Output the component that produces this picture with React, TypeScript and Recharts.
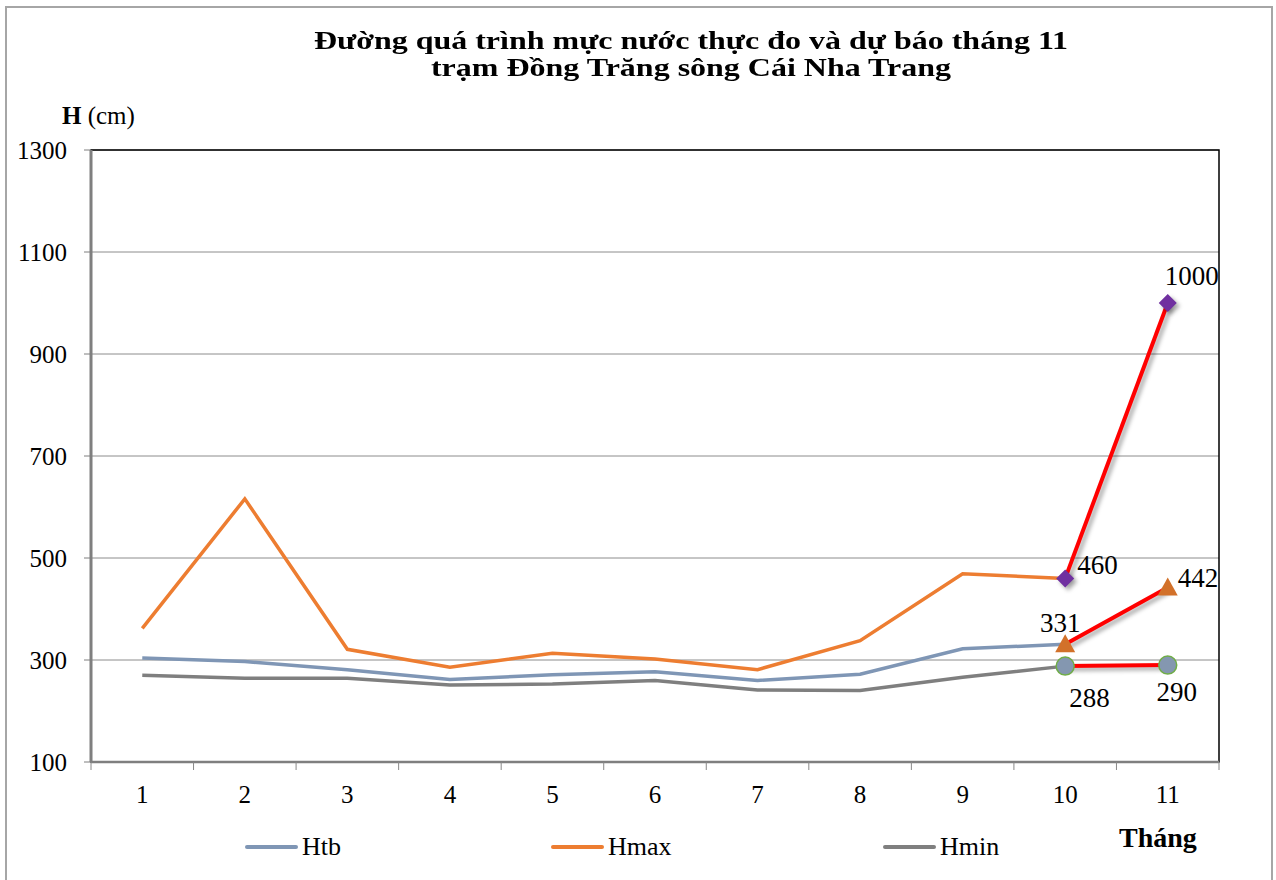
import React from 'react';
import { ComposedChart, Line, XAxis, YAxis, CartesianGrid, ReferenceArea, LabelList } from 'recharts';

const months = [1, 2, 3, 4, 5, 6, 7, 8, 9, 10, 11];
const htb: (number | null)[] = [304, 297, 281, 262, 271, 277, 260, 272, 322, 331, null];
const hmax: (number | null)[] = [362, 616, 321, 286, 313, 302, 281, 338, 469, 460, null];
const hmin: (number | null)[] = [270, 264, 264, 251, 253, 260, 241, 240, 266, 288, null];
const fcMax: (number | null)[] = [null, null, null, null, null, null, null, null, null, 460, 1000];
const fcTb: (number | null)[] = [null, null, null, null, null, null, null, null, null, 331, 442];
const fcMin: (number | null)[] = [null, null, null, null, null, null, null, null, null, 288, 290];
const yTicks = [100, 300, 500, 700, 900, 1100, 1300];
const xLabelTicks = months;
const xBoundaryTicks = [0.5, 1.5, 2.5, 3.5, 4.5, 5.5, 6.5, 7.5, 8.5, 9.5, 10.5, 11.5];

const data = months.map((m, i) => ({
  m,
  htb: htb[i],
  hmax: hmax[i],
  hmin: hmin[i],
  fcMax: fcMax[i],
  fcTb: fcTb[i],
  fcMin: fcMin[i],
}));

const FONT = '"Liberation Serif", "Times New Roman", serif';
const shadow = { filter: 'drop-shadow(3px 3px 2px rgba(0,0,0,0.35))' };

const XTick = (props: any) => {
  const { x, y, payload } = props;
  const v = payload.value;
  if (Number.isInteger(v)) {
    return (
      <text x={x} y={y + 41} textAnchor="middle" fontFamily={FONT} fontSize={25} fill="#000">
        {v}
      </text>
    );
  }
  return <line x1={x} x2={x} y1={y} y2={y + 8} stroke="#888" strokeWidth={1} />;
};

const Diamond = (props: any) => {
  const { cx, cy, value } = props;
  if (value == null || cx == null) return null;
  const s = 9;
  return (
    <path
      d={`M${cx},${cy - s} L${cx + s},${cy} L${cx},${cy + s} L${cx - s},${cy} Z`}
      fill="#7030A0"
      style={shadow}
    />
  );
};
const Triangle = (props: any) => {
  const { cx, cy, value } = props;
  if (value == null || cx == null) return null;
  const s = 10;
  return <path d={`M${cx},${cy - s} L${cx + s},${cy + s * 0.8} L${cx - s},${cy + s * 0.8} Z`} fill="#D2712A" />;
};
const Circle = (props: any) => {
  const { cx, cy, value } = props;
  if (value == null || cx == null) return null;
  return <circle cx={cx} cy={cy} r={9} fill="#8497B0" stroke="#70AD47" strokeWidth={1.5} />;
};

const makeLabel = (offsets: { [k: number]: [number, number, string] }) => (props: any) => {
  const { x, y, value, index } = props;
  if (value == null) return null;
  const o = offsets[index];
  if (!o) return null;
  return (
    <text x={x + o[0]} y={y + o[1]} textAnchor={o[2] as any} dominantBaseline="central" fontFamily={FONT} fontSize={27} fill="#000">
      {value}
    </text>
  );
};

const maxLabels = makeLabel({ 9: [12, -13, 'start'], 10: [-3, -27, 'start'] });
const tbLabels = makeLabel({ 9: [-5, -21, 'middle'], 10: [10, -10, 'start'] });
const minLabels = makeLabel({ 9: [4, 32, 'start'], 10: [9, 27, 'middle'] });

const legendItems = [
  { name: 'Htb', color: '#7F96B5', left: 245 },
  { name: 'Hmax', color: '#ED7D31', left: 551 },
  { name: 'Hmin', color: '#7F7F7F', left: 883 },
];

export default function App() {
  return (
    <div style={{ position: 'absolute', left: 0, top: 0, width: 1276, height: 880, background: '#fff', fontFamily: FONT }}>
      <div style={{ position: 'absolute', left: 5, top: 6, width: 1268, height: 880, border: '2px solid #A6A6A6', borderBottom: 'none', boxSizing: 'border-box' }} />
      <div
        style={{
          position: 'absolute',
          left: 0,
          top: 27,
          width: 1382,
          textAlign: 'center',
          fontWeight: 'bold',
          fontSize: 26,
          lineHeight: '27px',
          color: '#000',
          transform: 'scaleX(1.23)',
          transformOrigin: '691px 0',
        }}
      >
        Đường quá trình mực nước thực đo và dự báo tháng 11
        <br />
        trạm Đồng Trăng sông Cái Nha Trang
      </div>
      <div style={{ position: 'absolute', left: 62, top: 102, fontSize: 25, color: '#000' }}>
        <b>H</b> (cm)
      </div>
      <div style={{ position: 'absolute', left: 1119, top: 822, fontSize: 28, fontWeight: 'bold', color: '#000' }}>Tháng</div>
      {legendItems.map((it) => (
        <div key={it.name} style={{ position: 'absolute', left: it.left, top: 832, display: 'flex', alignItems: 'center', fontSize: 26, color: '#000' }}>
          <span style={{ display: 'inline-block', width: 53, height: 4, borderRadius: 2, background: it.color, marginRight: 4 }} />
          <span>{it.name}</span>
        </div>
      ))}
      <div style={{ position: 'absolute', left: 0, top: 0 }}>
        <ComposedChart width={1276} height={880} data={data} margin={{ top: 150, right: 57, bottom: 0, left: 0 }}>
          <CartesianGrid vertical={false} stroke="#8C8C8C" strokeWidth={1} />
          <ReferenceArea x1={0.5} x2={11.5} y1={100} y2={1300} fill="none" stroke="#000" strokeWidth={1.5} ifOverflow="visible" />
          <XAxis
            dataKey="m"
            type="number"
            domain={[0.5, 11.5]}
            ticks={[...xBoundaryTicks, ...xLabelTicks]}
            interval={0}
            height={118}
            tickSize={0}
            tickMargin={0}
            tick={<XTick />}
            axisLine={{ stroke: '#7F7F7F', strokeWidth: 2.5 }}
            allowDecimals
          />
          <YAxis
            type="number"
            domain={[100, 1300]}
            ticks={yTicks}
            interval={0}
            width={91}
            tickSize={7}
            tickMargin={17}
            tickLine={{ stroke: '#7F7F7F' }}
            axisLine={{ stroke: '#7F7F7F', strokeWidth: 3 }}
            tick={{ fontFamily: FONT, fontSize: 25, fill: '#000' }}
          />
          <Line dataKey="hmin" stroke="#7F7F7F" strokeWidth={3.5} dot={false} isAnimationActive={false} />
          <Line dataKey="htb" stroke="#7F96B5" strokeWidth={3.5} dot={false} isAnimationActive={false} />
          <Line dataKey="hmax" stroke="#ED7D31" strokeWidth={3.5} dot={false} isAnimationActive={false} />
          <Line dataKey="fcMin" stroke="#FF0000" strokeWidth={4} dot={<Circle />} isAnimationActive={false} style={shadow}>
            <LabelList dataKey="fcMin" content={minLabels} />
          </Line>
          <Line dataKey="fcTb" stroke="#FF0000" strokeWidth={4} dot={<Triangle />} isAnimationActive={false} style={shadow}>
            <LabelList dataKey="fcTb" content={tbLabels} />
          </Line>
          <Line dataKey="fcMax" stroke="#FF0000" strokeWidth={4} dot={<Diamond />} isAnimationActive={false} style={shadow}>
            <LabelList dataKey="fcMax" content={maxLabels} />
          </Line>
        </ComposedChart>
      </div>
    </div>
  );
}
